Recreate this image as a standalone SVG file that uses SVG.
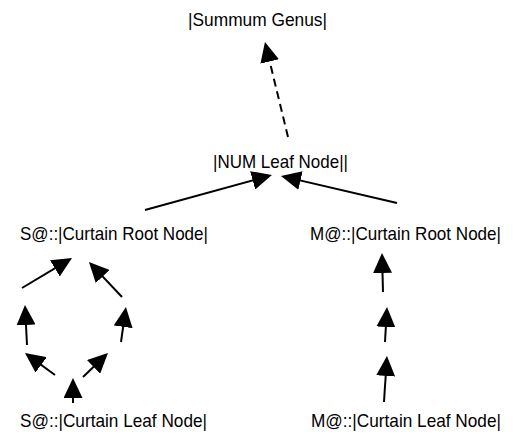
<svg xmlns="http://www.w3.org/2000/svg" width="527" height="438" viewBox="0 0 527 438">
<style>
text{font-family:"Liberation Sans",Arial,sans-serif;font-size:19px;fill:#000}
.c line{stroke:#000;stroke-width:2;fill:none}
.d{stroke-dasharray:8,5}
</style>
<defs>
<marker id="ah" markerUnits="userSpaceOnUse" markerWidth="20" markerHeight="19" refX="16" refY="9.5" orient="auto" viewBox="0 0 20 19">
<path d="M0,0 L20,9.5 L0,19 z" fill="#000"/>
</marker>
</defs>
<rect width="527" height="438" fill="#fff"/>
<g class="c" id="connectors">
<line class="d" x1="288" y1="137" x2="265.9" y2="45.9" marker-end="url(#ah)"/>
<line x1="145" y1="210" x2="268.1" y2="176.1" marker-end="url(#ah)"/>
<line x1="397" y1="203" x2="284.9" y2="176.9" marker-end="url(#ah)"/>
<line x1="22" y1="288" x2="68.6" y2="260.1" marker-end="url(#ah)"/>
<line x1="122" y1="297" x2="91.7" y2="264.9" marker-end="url(#ah)"/>
<line x1="27" y1="345" x2="25.2" y2="309" marker-end="url(#ah)"/>
<line x1="121" y1="342" x2="125.4" y2="311" marker-end="url(#ah)"/>
<line x1="55" y1="375" x2="28.2" y2="355.4" marker-end="url(#ah)"/>
<line x1="83" y1="377" x2="105.1" y2="355.8" marker-end="url(#ah)"/>
<line x1="73" y1="403" x2="73" y2="382" marker-end="url(#ah)"/>
<line x1="383" y1="292" x2="382.1" y2="257" marker-end="url(#ah)"/>
<line x1="385" y1="342" x2="386.8" y2="311" marker-end="url(#ah)"/>
<line x1="384" y1="402" x2="386.7" y2="360" marker-end="url(#ah)"/>
</g>
<g id="summum"><text x="188" y="26" textLength="139" lengthAdjust="spacingAndGlyphs">|Summum Genus|</text></g>
<g id="num"><text x="213" y="168" textLength="135" lengthAdjust="spacingAndGlyphs">|NUM Leaf Node||</text></g>
<g id="s-root"><text x="20" y="240" textLength="188" lengthAdjust="spacingAndGlyphs">S@::|Curtain Root Node|</text></g>
<g id="m-root"><text x="310" y="240" textLength="191" lengthAdjust="spacingAndGlyphs">M@::|Curtain Root Node|</text></g>
<g id="s-leaf"><text x="20" y="427" textLength="187" lengthAdjust="spacingAndGlyphs">S@::|Curtain Leaf Node|</text></g>
<g id="m-leaf"><text x="311" y="427" textLength="190" lengthAdjust="spacingAndGlyphs">M@::|Curtain Leaf Node|</text></g>
</svg>
